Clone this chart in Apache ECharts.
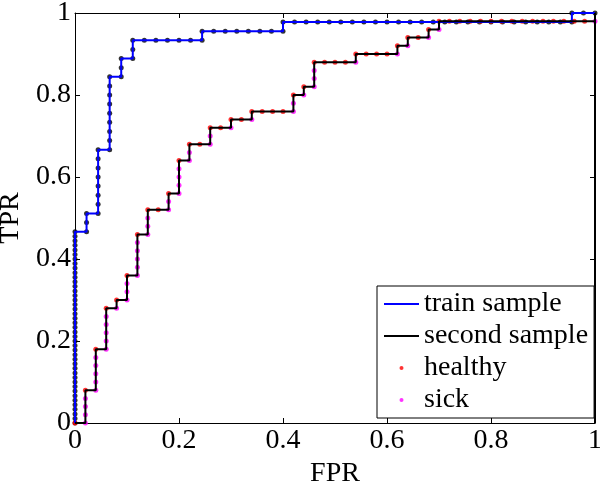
<!DOCTYPE html>
<html><head><meta charset="utf-8">
<script src="https://cdn.jsdelivr.net/npm/echarts@6/dist/echarts.min.js"></script>
<style>html,body{margin:0;padding:0;background:#fff}#c{width:600px;height:485px}</style>
</head><body><div id="c"></div>
<script>
// ---- DATA ----
// Train sample, ordered by score: 'n' = negative (FPR step 1/45), 'p' = positive (TPR step 1/45),
// 'q' = positive in the tied leading block (drawn at half-step spacing, as in the original)
const trainSeq = "qqqqqqqqqq" + "qqqqqqqqqq" + "qqqqqqqqqq" + "qqqqqqqqqq" + "qq" +
  "n" + "pp" + "n" + "ppppppp" + "n" + "pppppppp" + "n" + "pp" + "n" + "pp" +
  "nnnnnn" + "p" + "nnnnnnn" + "p" + "nnnnnnnnnnnnnnnnnnnnnnnnn" + "p" + "nn";
const trainNeg = 45, trainPos = 45;

// Second sample, ordered by score: 'h' = healthy (FPR step 1/50), 's' = sick (TPR step 1/50)
const secondSeq = "h" + "ssss" + "h" + "sssss" + "h" + "sssss" + "h" + "s" + "h" + "sss" +
  "h" + "sssss" + "h" + "sss" + "hh" + "ss" + "h" + "ssss" + "h" + "ss" + "hh" + "ss" +
  "hh" + "s" + "hh" + "s" + "hhhh" + "ss" + "h" + "s" + "h" + "sss" + "hhhh" + "s" +
  "hhhh" + "s" + "h" + "s" + "hh" + "s" + "h" + "s" + "hhhhhhhhhhhhhhh" + "s";
const secondHealthy = 50, secondSick = 50;
const secondTail = [[1, 0]];

const xTicks = [0, 0.2, 0.4, 0.6, 0.8, 1];
const yTicks = [0, 0.2, 0.4, 0.6, 0.8, 1];
const legendNames = ['train sample', 'second sample', 'healthy', 'sick'];

// ---- build ROC points from the ordered labels ----
function walk(seq, nNeg, nPos) {
  let i = 0, j = 0; const pts = [[0, 0]];
  for (const c of seq) {
    if (c === 'n' || c === 'h') i += 2; else if (c === 'q') j += 1; else j += 2;
    pts.push([i / (2 * nNeg), j / (2 * nPos)]);
  }
  return pts;
}
const trainPts = walk(trainSeq, trainNeg, trainPos);
const secondPts = walk(secondSeq, secondHealthy, secondSick);
const healthyPts = [], sickPts = [];
for (let k = 0; k < secondSeq.length; k++) {
  (secondSeq[k] === 'h' ? healthyPts : sickPts).push(secondPts[k]);
}

const FONT = 'Liberation Serif';
const fmt = v => (v === 0 ? '0' : v === 1 ? '1' : v.toFixed(1));
function axisBase(extra) {
  return Object.assign({
    type: 'value', min: 0, max: 1, interval: 0.2,
    axisLine: { show: true, onZero: false, lineStyle: { color: '#000', width: 1 } },
    axisTick: { show: true, inside: true, length: 5, lineStyle: { color: '#000' } },
    splitLine: { show: false },
    axisLabel: { show: false }
  }, extra);
}

const chart = echarts.init(document.getElementById('c'), null, { renderer: 'canvas' });
chart.setOption({
  animation: false,
  backgroundColor: '#fff',
  grid: { left: 75, right: 5, top: 13, bottom: 62, containLabel: false, outerBoundsMode: 'none' },
  xAxis: [
    axisBase({ position: 'bottom', name: 'FPR', nameLocation: 'middle', nameGap: 27,
      nameTextStyle: { fontFamily: FONT, fontSize: 28, color: '#000' },
      axisLabel: { show: true, margin: 4, formatter: fmt, fontFamily: FONT, fontSize: 28, color: '#000',
        showMinLabel: true, showMaxLabel: true } }),
    axisBase({ position: 'top' })
  ],
  yAxis: [
    axisBase({ position: 'left', name: 'TPR', nameLocation: 'middle', nameGap: 38,
      nameTextStyle: { fontFamily: FONT, fontSize: 28, color: '#000' },
      axisLabel: { show: true, margin: 4, formatter: fmt, fontFamily: FONT, fontSize: 28, color: '#000',
        showMinLabel: true, showMaxLabel: true } }),
    axisBase({ position: 'right' })
  ],
  legend: {
    orient: 'vertical', left: 377, top: 286, padding: [2, 6, 2, 6], itemGap: 0,
    itemWidth: 35, itemHeight: 4, borderColor: '#000', borderWidth: 1, borderRadius: 0,
    backgroundColor: '#fff', selectedMode: false,
    textStyle: { fontFamily: FONT, fontSize: 28, lineHeight: 32, color: '#000' },
    data: [
      { name: legendNames[0], itemStyle: { opacity: 0 } },
      { name: legendNames[1], itemStyle: { opacity: 0 } },
      legendNames[2], legendNames[3]
    ]
  },
  series: [
    { name: legendNames[0], type: 'line', data: trainPts, symbol: 'none', clip: false,
      color: '#0000ff', lineStyle: { color: '#0000ff', width: 2 } },
    { name: 'train points', type: 'scatter', data: trainPts, symbol: 'circle', symbolSize: 5, clip: false,
      itemStyle: { color: '#000' } },
    { name: legendNames[1], type: 'line', data: secondPts.concat(secondTail), symbol: 'none', clip: false,
      color: '#000', lineStyle: { color: '#000', width: 2 } },
    { name: legendNames[2], type: 'scatter', data: healthyPts, symbol: 'circle', symbolSize: 5, clip: false,
      itemStyle: { color: '#ff0000' } },
    { name: legendNames[3], type: 'scatter', data: sickPts, symbol: 'circle', symbolSize: 5, clip: false,
      itemStyle: { color: '#ff00ff' } }
  ]
});
</script></body></html>
